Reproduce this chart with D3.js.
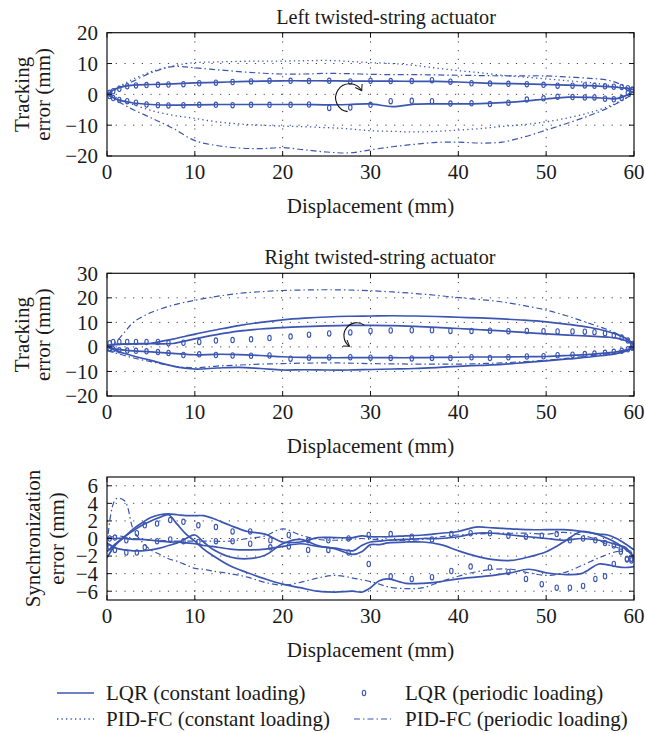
<!doctype html>
<html>
<head>
<meta charset="utf-8">
<script src="https://d3js.org/d3.v7.min.js"></script>
<style>
  body { margin: 0; background: #fff; }
  svg text { font-family: "Liberation Serif", "Times New Roman", serif; font-size: 21px; fill: #1a1a1a; }
  svg text.title { font-size: 20.2px; }
</style>
</head>
<body>
<script>
// ---------- data ----------
// displacement grid used by the line branches of the two tracking plots
var xGrid = [0, 1, 2, 3, 5, 7.5, 10, 12.5, 15, 17.5, 20, 22.5, 25, 27.5, 30, 32.5, 35, 37.5, 40, 42.5, 45, 47.5, 50, 52.5, 55, 57, 58, 59, 60];

// left actuator, tracking error (mm)
var leftLqrUp   = [0, 1.8, 2.6, 3.0, 3.2, 3.4, 3.7, 3.9, 4.1, 4.3, 4.4, 4.4, 4.4, 4.3, 4.3, 4.3, 4.2, 4.2, 4.0, 3.7, 3.5, 3.4, 3.2, 3.0, 2.8, 2.5, 2.3, 2.0, 1.5];
var leftLqrDown = [0, -1.5, -2.3, -2.8, -3.3, -3.5, -3.4, -3.3, -3.3, -3.3, -3.3, -3.3, -3.4, -3.3, -3.1, -4.0, -3.2, -3.1, -3.1, -3.0, -2.7, -2.2, -1.5, -0.9, -1.0, -1.3, -1.4, -0.5, 1.0];
var leftPidConstUp   = [0, 2, 3.5, 5, 7.3, 9.2, 10.3, 10.5, 10.7, 10.8, 10.8, 10.9, 11.0, 10.7, 10.3, 10.0, 9.4, 8.5, 7.7, 7.0, 6.2, 5.6, 5.0, 4.4, 3.8, 3.0, 2.5, 1.8, 1.0];
var leftPidConstDown = [0, -1, -2.2, -3.3, -5.2, -6.8, -7.8, -8.9, -9.6, -10.0, -10.3, -10.5, -10.8, -11.2, -11.8, -12.0, -12.2, -12.0, -11.6, -11.1, -10.4, -9.8, -8.9, -7.6, -5.9, -4.0, -2.8, -1.4, 0];
var leftPidPerUp   = [0, 1.5, 3, 4.3, 7.0, 9.0, 8.6, 8.0, 7.4, 6.9, 6.6, 6.6, 6.8, 6.7, 6.5, 6.4, 6.4, 6.3, 6.2, 6.1, 6.0, 6.0, 6.0, 5.6, 5.2, 4.6, 3.8, 2.4, 0.8];
var leftPidPerDown = [0, -1.8, -3.5, -5.0, -7.6, -11.0, -15.0, -16.6, -17.4, -17.6, -17.3, -18.0, -18.7, -19.0, -18.0, -17.0, -16.2, -15.6, -15.5, -15.8, -15.5, -13.8, -11.6, -9.3, -6.8, -4.5, -3.0, -1.4, 0.5];

// right actuator, tracking error (mm)
var rightLqrOuterUp   = [0.5, 1.0, 1.2, 1.3, 1.5, 3.2, 5.2, 7.0, 8.7, 10.0, 11.0, 11.7, 12.2, 12.5, 12.6, 12.7, 12.6, 12.4, 12.1, 11.8, 11.4, 10.9, 10.2, 9.2, 7.9, 6.3, 5.2, 3.6, 1.2];
var rightLqrInnerUp   = [0.5, 1.0, 1.1, 1.2, 1.3, 1.4, 3.3, 5.0, 6.4, 7.3, 7.9, 8.3, 8.6, 8.8, 8.8, 8.7, 8.4, 8.0, 7.5, 7.0, 6.5, 5.9, 5.3, 4.8, 4.4, 4.0, 3.6, 2.6, 0.8];
var rightLqrInnerDown = [0, -0.9, -1.3, -1.6, -2.0, -2.6, -3.2, -3.0, -3.1, -3.5, -4.0, -4.3, -4.4, -4.4, -4.4, -4.4, -4.4, -4.3, -4.2, -4.1, -4.1, -4.0, -3.9, -3.5, -3.0, -2.4, -2.0, -1.3, 0];
var rightLqrOuterDown = [0, -1.5, -2.7, -3.7, -5.5, -7.8, -9.0, -8.6, -8.3, -8.8, -9.4, -9.3, -9.4, -9.4, -9.2, -9.0, -8.8, -8.4, -7.9, -7.5, -7.1, -6.4, -5.7, -4.9, -4.1, -3.3, -2.7, -1.8, -0.3];
var rightPidPerUp   = [0, 2.0, 6.0, 10.0, 14.0, 17.0, 19.0, 20.6, 21.8, 22.5, 23.0, 23.2, 23.3, 23.2, 22.9, 22.4, 21.8, 21.0, 20.1, 19.3, 18.3, 16.8, 15.0, 12.5, 9.5, 7.0, 5.5, 3.5, 1.0];
var rightPidPerDown = [-1.5, -2.5, -3.5, -4.5, -6.0, -7.8, -8.5, -7.8, -7.4, -7.0, -6.8, -6.6, -6.5, -6.6, -6.8, -6.9, -7.0, -7.0, -7.0, -6.8, -6.5, -6.0, -5.4, -4.6, -3.6, -2.8, -2.2, -1.6, -0.8];

// displacement of the periodic-loading LQR markers (tracking plots)
var markX = [0.3, 0.7, 1.4, 2.3, 3.3, 4.5, 5.8, 7, 8.7, 10.5, 12.4, 14.3, 16.4, 18.5, 20.9, 23, 25.3, 27.7, 30, 32.3, 34.7, 37, 39.1, 41.5, 43.6, 45.7, 47.8, 49.7, 51.3, 53, 54.4, 55.5, 56.7, 57.7, 58.6, 59.3, 59.8];
var leftMarkUp    = [0.5, 1, 1.8, 2.6, 2.9, 3.0, 3.1, 3.2, 3.3, 3.6, 3.8, 4.0, 4.2, 4.4, 4.4, 4.3, 4.4, 4.2, 4.4, 4.3, 4.3, 4.6, 4.1, 3.6, 3.5, 3.4, 3.3, 3.1, 2.8, 2.8, 2.9, 2.8, 2.6, 2.5, 2.4, 2.0, 1.5];
var leftMarkDown  = [-0.5, -1.2, -1.8, -2.2, -2.7, -3.3, -3.5, -3.6, -3.5, -3.4, -3.4, -3.5, -3.4, -3.4, -3.4, -3.3, -4.4, -4.3, -3.4, -2.2, -2.1, -2.2, -3.0, -2.9, -3.1, -2.7, -1.7, -1.3, -0.8, -0.9, -1.0, -1.0, -1.4, -1.6, -1.2, 0.5, 1.5];
var rightMarkUp   = [1.5, 2, 2.0, 2.0, 2.0, 2.0, 2.0, 1.5, 1.7, 2.0, 2.6, 2.8, 3.1, 3.6, 4.2, 5.0, 5.5, 5.9, 6.5, 6.7, 6.8, 6.8, 6.5, 6.5, 6.6, 6.4, 6.5, 6.4, 6.3, 6.3, 6.2, 6.0, 5.6, 4.8, 3.8, 2.6, 1.2];
var rightMarkDown = [-0.5, -1.0, -1.4, -1.5, -1.6, -1.8, -2.1, -2.5, -3.3, -3.0, -3.3, -3.5, -3.6, -3.5, -4.8, -4.4, -4.3, -4.2, -4.4, -4.5, -4.7, -4.5, -4.5, -4.2, -4.5, -4.2, -3.9, -3.8, -3.4, -3.2, -2.9, -2.7, -2.4, -2.0, -1.6, -1.0, -0.3];

// synchronization error (mm)
var syncGrid = [0, 1, 2, 3, 4, 5, 6, 7, 8, 9, 10, 11, 12, 14, 16, 18, 20, 22, 24, 26, 28, 29, 30, 31, 32, 34, 36, 38, 40, 42, 44, 46, 48, 50, 52, 54, 56, 57, 58, 59, 60];
var syncLqrA = [-2.2, -0.7, 0.2, 1.1, 1.8, 2.4, 2.7, 2.8, 2.7, 2.6, 2.6, 2.6, 2.3, 1.5, 0.8, 0.5, -0.4, -0.4, 0.1, 0.1, 0.1, 0.3, 0.2, 0.2, 0.2, 0.3, 0.4, 0.6, 0.8, 1.3, 1.2, 1.1, 1.0, 1.0, 1.0, 0.8, 0.5, 0.4, 0.0, -0.6, -1.3];
var syncLqrB = [-1.5, -0.6, 0.2, 0.9, 1.5, 2.0, 2.4, 2.7, 1.6, 0.5, -0.3, -1.2, -1.9, -3.1, -3.9, -4.6, -5.2, -5.6, -6.0, -6.1, -6.0, -6.1, -5.6, -4.8, -4.6, -5.1, -5.1, -4.9, -4.6, -4.4, -4.2, -3.9, -3.5, -3.9, -4.1, -4.0, -2.9, -3.0, -3.2, -3.3, -3.2];
var syncLqrC = [-0.5, -1.1, -1.3, -1.4, -1.4, -1.3, -1.1, -0.8, -0.5, 0.0, 0.4, -0.4, -1.2, -2.1, -2.3, -1.9, -0.6, -0.1, -0.8, -1.2, -1.8, -1.5, -0.7, -0.7, -0.5, -0.4, -0.4, -0.7, -1.4, -2.0, -2.4, -2.5, -2.1, -1.5, -0.4, 0.8, 0.4, 0.0, -0.5, -1.2, -2.0];
var syncLqrD = [0, 0, 0, -0.1, -0.1, -0.2, -0.3, -0.4, -0.4, -0.5, -0.6, -0.8, -0.9, -1.2, -1.3, -1.2, -0.9, -0.6, -0.9, -1.1, -1.4, -0.8, -0.4, -0.3, -0.2, -0.1, 0.0, 0.0, 0.2, 0.6, 0.6, 0.4, 0.2, 0.0, -0.2, 0.0, -0.2, -0.4, -0.7, -1.0, -2.3];
var syncPidA = [-1.0, 4.5, 4.3, 1.0, -0.4, -1.3, -1.8, -2.3, -2.6, -3.0, -3.4, -3.5, -3.7, -4.0, -4.4, -5.0, -5.3, -5.0, -4.5, -4.2, -4.5, -4.7, -4.9, -5.2, -5.5, -5.7, -5.6, -4.9, -4.3, -3.8, -3.5, -3.5, -3.9, -4.2, -3.9, -3.1, -2.2, -1.8, -1.5, -1.4, -1.7];
var syncPidB = [0, 0.3, 0.2, 0, -0.1, -0.2, -0.2, -0.3, -0.3, -0.3, -0.3, -0.3, -0.3, -0.3, 0, 0.3, 1.1, 0.4, -0.1, -0.2, -0.1, 0, -0.1, -0.1, -0.2, -0.2, -0.1, 0.2, 0.4, 0.5, 0.6, 0.6, 0.6, 0.5, 0.7, 0.4, -0.2, -0.7, -1.0, -1.3, -1.5];
var syncMarkX    = [0.3, 0.9, 2.2, 3.4, 4.3, 5.7, 7.2, 8.7, 10.4, 12.4, 14.3, 16.3, 18.6, 20.7, 22.9, 25.2, 27.5, 29.8, 32.3, 34.7, 37, 39.2, 41.4, 43.6, 45.7, 47.7, 49.5, 51.2, 52.7, 54.2, 55.6, 56.7, 57.7, 58.5, 59.2, 59.7];
var syncMarkUp   = [0, 0.1, -0.2, 0.6, 1.5, 1.7, 2.1, 1.9, 1.5, 1.3, 0.8, 0.8, -0.2, 0.4, -0.2, -0.2, 0, 0.4, 0.5, 0.2, -0.1, 0.5, 0.6, 0.6, 0.3, 0.2, 0.3, 0.5, -0.2, 0, -0.2, -0.5, -0.8, -1.2, -2.3, -2.3];
var syncMarkDown = [-1, -1.3, -1.6, -1.6, -1, -0.3, -0.1, -0.3, -0.4, -0.3, -0.3, -0.6, -1, -0.9, -1.3, -1.3, -1.6, -2.9, -4.3, -4.6, -4.4, -3.7, -3.2, -3.3, -3.8, -4.6, -5.2, -5.6, -5.6, -5.4, -4.6, -4.3, -2.9, -1.5, -2.4, -2.5];

var xTicks = [0, 10, 20, 30, 40, 50, 60];
var legendLabels = ["LQR (constant loading)", "LQR (periodic loading)", "PID-FC (constant loading)", "PID-FC (periodic loading)"];

// ---------- layout ----------
var blue = "#3b56b2";
var plotLeft = 107, plotRight = 634;
var styles = {
  solid:   { width: 1.7, dash: null },
  dotted:  { width: 1.3, dash: "1.3,3.2" },
  dashdot: { width: 1.2, dash: "6,3,1.5,3" }
};

var panels = [
  { title: "Left twisted-string actuator", titleX: 386, titleY: 24, top: 32.7, bottom: 156,
    yDomain: [-20, 20], yTicks: [-20, -10, 0, 10, 20],
    yLabel: ["Tracking", "error (mm)"], yLabelX: [28.5, 50],
    lines: [
      [xGrid, leftLqrUp, "solid"], [xGrid, leftLqrDown, "solid"],
      [xGrid, leftPidConstUp, "dotted"], [xGrid, leftPidConstDown, "dotted"],
      [xGrid, leftPidPerUp, "dashdot"], [xGrid, leftPidPerDown, "dashdot"]
    ],
    marks: [[markX, leftMarkUp], [markX, leftMarkDown]],
    arrow: { from: [27.4, -5.6], to: [29.0, 1.2], r: 14, sweep: 1 } },
  { title: "Right twisted-string actuator", titleX: 380, titleY: 264, top: 273.3, bottom: 396,
    yDomain: [-20, 30], yTicks: [-20, -10, 0, 10, 20, 30],
    yLabel: ["Tracking", "error (mm)"], yLabelX: [28.5, 50],
    lines: [
      [xGrid, rightLqrOuterUp, "solid"], [xGrid, rightLqrInnerUp, "solid"],
      [xGrid, rightLqrInnerDown, "solid"], [xGrid, rightLqrOuterDown, "solid"],
      [xGrid, rightPidPerUp, "dashdot"], [xGrid, rightPidPerDown, "dashdot"]
    ],
    marks: [[markX, rightMarkUp], [markX, rightMarkDown]],
    arrow: { from: [29.3, 8.9], to: [27.6, 0.3], r: 12, sweep: 0 } },
  { title: null, top: 477, bottom: 600,
    yDomain: [-7, 7], yTicks: [-6, -4, -2, 0, 2, 4, 6],
    yLabel: ["Synchronization", "error (mm)"], yLabelX: [39.5, 63.5],
    lines: [
      [syncGrid, syncLqrA, "solid"], [syncGrid, syncLqrB, "solid"],
      [syncGrid, syncLqrC, "solid"], [syncGrid, syncLqrD, "solid"],
      [syncGrid, syncPidA, "dashdot"], [syncGrid, syncPidB, "dashdot"]
    ],
    marks: [[syncMarkX, syncMarkUp], [syncMarkX, syncMarkDown]],
    arrow: null }
];

var svg = d3.select("body").append("svg")
    .attr("width", 645)
    .attr("height", 733)
    .attr("font-family", "Liberation Serif, serif");

var defs = svg.append("defs");
defs.append("marker")
    .attr("id", "head")
    .attr("markerUnits", "userSpaceOnUse")
    .attr("markerWidth", 10).attr("markerHeight", 10)
    .attr("refX", 6).attr("refY", 4)
    .attr("orient", "auto")
  .append("path")
    .attr("d", "M0,0 L6,4 L0,8")
    .attr("fill", "none")
    .attr("stroke", "#111")
    .attr("stroke-width", 1);

var x = d3.scaleLinear().domain([0, 60]).range([plotLeft, plotRight]);

function drawMarker(g, cx, cy) {
  g.append("ellipse")
    .attr("cx", cx).attr("cy", cy)
    .attr("rx", 1.7).attr("ry", 2.7)
    .attr("fill", "none")
    .attr("stroke", blue)
    .attr("stroke-width", 1.1);
}

panels.forEach(function(p, pi) {
  var y = d3.scaleLinear().domain(p.yDomain).range([p.bottom, p.top]);
  var g = svg.append("g");

  // dotted grid
  xTicks.slice(1, -1).forEach(function(t) {
    g.append("line")
      .attr("x1", x(t)).attr("x2", x(t))
      .attr("y1", p.top).attr("y2", p.bottom)
      .attr("stroke", "#444").attr("stroke-width", 1)
      .attr("stroke-dasharray", "1.2,7.5");
  });
  p.yTicks.forEach(function(t) {
    if (t === p.yDomain[0] || t === p.yDomain[1]) return;
    g.append("line")
      .attr("x1", plotLeft).attr("x2", plotRight)
      .attr("y1", y(t)).attr("y2", y(t))
      .attr("stroke", "#444").attr("stroke-width", 1)
      .attr("stroke-dasharray", "1.2,7.5");
  });

  // data
  var clipId = "clip" + pi;
  defs.append("clipPath").attr("id", clipId)
    .append("rect")
      .attr("x", plotLeft).attr("y", p.top)
      .attr("width", plotRight - plotLeft).attr("height", p.bottom - p.top);
  var data = g.append("g").attr("clip-path", "url(#" + clipId + ")");

  var line = d3.line()
      .x(function(d) { return x(d[0]); })
      .y(function(d) { return y(d[1]); })
      .curve(d3.curveCatmullRom.alpha(0.5));

  p.lines.forEach(function(l) {
    var s = styles[l[2]];
    data.append("path")
      .attr("d", line(d3.zip(l[0], l[1])))
      .attr("fill", "none")
      .attr("stroke", blue)
      .attr("stroke-width", s.width)
      .attr("stroke-dasharray", s.dash)
      .attr("stroke-linejoin", "round");
  });

  p.marks.forEach(function(m) {
    d3.zip(m[0], m[1]).forEach(function(d) {
      drawMarker(data, x(d[0]), y(d[1]));
    });
  });

  // turning-direction arrow
  if (p.arrow) {
    var a = p.arrow;
    var x0 = x(a.from[0]), y0 = y(a.from[1]), x1 = x(a.to[0]), y1 = y(a.to[1]);
    g.append("path")
      .attr("d", "M" + x0 + "," + y0 + " A" + a.r + "," + a.r + " 0 1 " + a.sweep + " " + x1 + "," + y1)
      .attr("fill", "none")
      .attr("stroke", "#111")
      .attr("stroke-width", 1.1)
      .attr("marker-end", "url(#head)");
  }

  // box and inward ticks
  g.append("rect")
    .attr("x", plotLeft).attr("y", p.top)
    .attr("width", plotRight - plotLeft).attr("height", p.bottom - p.top)
    .attr("fill", "none").attr("stroke", "#111").attr("stroke-width", 1.2);

  xTicks.forEach(function(t) {
    g.append("line").attr("x1", x(t)).attr("x2", x(t))
      .attr("y1", p.bottom).attr("y2", p.bottom - 5).attr("stroke", "#111");
    g.append("line").attr("x1", x(t)).attr("x2", x(t))
      .attr("y1", p.top).attr("y2", p.top + 5).attr("stroke", "#111");
    g.append("text")
      .attr("x", x(t)).attr("y", p.bottom + 15.5)
      .attr("dy", "0.35em")
      .attr("text-anchor", "middle")
      .text(t);
  });

  p.yTicks.forEach(function(t) {
    g.append("line").attr("x1", plotLeft).attr("x2", plotLeft + 5)
      .attr("y1", y(t)).attr("y2", y(t)).attr("stroke", "#111");
    g.append("line").attr("x1", plotRight).attr("x2", plotRight - 5)
      .attr("y1", y(t)).attr("y2", y(t)).attr("stroke", "#111");
    g.append("text")
      .attr("x", plotLeft - 9).attr("y", y(t))
      .attr("dy", "0.35em")
      .attr("text-anchor", "end")
      .text(d3.format("")(t));
  });

  // titles and axis labels
  if (p.title) {
    g.append("text")
      .attr("class", "title")
      .attr("x", p.titleX).attr("y", p.titleY)
      .attr("text-anchor", "middle")
      .text(p.title);
  }
  g.append("text")
    .attr("x", (plotLeft + plotRight) / 2).attr("y", p.bottom + 57)
    .attr("text-anchor", "middle")
    .text("Displacement (mm)");

  var cy = (p.top + p.bottom) / 2;
  p.yLabel.forEach(function(s, i) {
    g.append("text")
      .attr("transform", "translate(" + p.yLabelX[i] + "," + cy + ") rotate(-90)")
      .attr("text-anchor", "middle")
      .text(s);
  });
});

// ---------- legend ----------
var legend = svg.append("g");
var legendItems = [
  { label: legendLabels[0], kind: "solid",   x: 57,  y: 693 },
  { label: legendLabels[1], kind: "marker",  x: 354, y: 693 },
  { label: legendLabels[2], kind: "dotted",  x: 57,  y: 719 },
  { label: legendLabels[3], kind: "dashdot", x: 354, y: 719 }
];
legendItems.forEach(function(it) {
  if (it.kind === "marker") {
    drawMarker(legend, it.x + 10, it.y);
  } else {
    var s = styles[it.kind];
    legend.append("line")
      .attr("x1", it.x).attr("x2", it.x + 37)
      .attr("y1", it.y).attr("y2", it.y)
      .attr("stroke", blue)
      .attr("stroke-width", s.width)
      .attr("stroke-dasharray", s.dash);
  }
  legend.append("text")
    .attr("x", it.x + (it.kind === "marker" || it.kind === "dashdot" ? 51 : 49))
    .attr("y", it.y + 7)
    .text(it.label);
});
</script>
</body>
</html>
